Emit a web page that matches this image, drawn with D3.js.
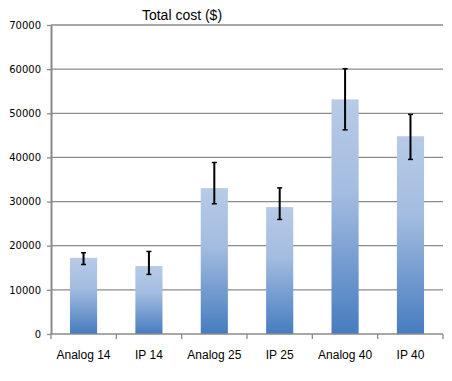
<!DOCTYPE html>
<html>
<head>
<meta charset="utf-8">
<script src="https://cdn.jsdelivr.net/npm/d3@7"></script>
<style>
  body { margin: 0; background: #fff; }
  svg { display: block; }
</style>
</head>
<body>
<svg id="chart"></svg>
<script>
var categories = ['Analog 14', 'IP 14', 'Analog 25', 'IP 25', 'Analog 40', 'IP 40'];
var costs = [17250, 15400, 33050, 28750, 53150, 44800];
var errLow = [15750, 13500, 29500, 25950, 46250, 39550];
var errHigh = [18400, 18700, 38850, 33100, 60100, 49750];
var yTicks = [0, 10000, 20000, 30000, 40000, 50000, 60000, 70000];

var W = 452, H = 381,
  margin = { top: 25, right: 9, bottom: 47, left: 51 },
  width = W - margin.left - margin.right,
  height = H - margin.top - margin.bottom;

var svg = d3.select('#chart')
  .attr('width', W)
  .attr('height', H);

// bar gradient, light on top and darker at the base
var grad = svg.append('defs').append('linearGradient')
  .attr('id', 'barGrad')
  .attr('x1', 0).attr('y1', 0).attr('x2', 0).attr('y2', 1);
grad.append('stop').attr('offset', '0%').attr('stop-color', '#b7cbe7');
grad.append('stop').attr('offset', '40%').attr('stop-color', '#a3bce0');
grad.append('stop').attr('offset', '100%').attr('stop-color', '#467cbf');

var g = svg.append('g')
  .attr('transform', 'translate(' + margin.left + ',' + margin.top + ')');

var x = d3.scaleBand()
  .domain(categories)
  .range([0, width])
  .paddingInner(0.585)
  .paddingOuter(0.29);
var y = d3.scaleLinear()
  .domain([0, 70000])
  .range([height, 0]);

// grid lines
g.append('g')
  .selectAll('line')
  .data(yTicks.slice(1))
  .enter().append('line')
  .attr('x1', 0)
  .attr('x2', width)
  .attr('y1', function (d) { return y(d); })
  .attr('y2', function (d) { return y(d); })
  .attr('stroke', '#8a8a8a')
  .attr('stroke-width', 1.3);

// bars
g.selectAll('.bar')
  .data(costs)
  .enter().append('rect')
  .attr('class', 'bar')
  .attr('x', function (d, i) { return x(categories[i]); })
  .attr('width', x.bandwidth())
  .attr('y', function (d) { return y(d); })
  .attr('height', function (d) { return height - y(d); })
  .attr('fill', 'url(#barGrad)');

// error bars
var err = g.append('g').selectAll('g')
  .data(categories)
  .enter().append('g')
  .attr('transform', function (d) { return 'translate(' + (x(d) + x.bandwidth() / 2) + ',0)'; });
err.append('line')
  .attr('y1', function (d, i) { return y(errLow[i]); })
  .attr('y2', function (d, i) { return y(errHigh[i]); })
  .attr('stroke', '#000')
  .attr('stroke-width', 2);
err.append('line')
  .attr('x1', -2.5).attr('x2', 2.5)
  .attr('y1', function (d, i) { return y(errLow[i]); })
  .attr('y2', function (d, i) { return y(errLow[i]); })
  .attr('stroke', '#000')
  .attr('stroke-width', 1.5);
err.append('line')
  .attr('x1', -2.5).attr('x2', 2.5)
  .attr('y1', function (d, i) { return y(errHigh[i]); })
  .attr('y2', function (d, i) { return y(errHigh[i]); })
  .attr('stroke', '#000')
  .attr('stroke-width', 1.5);

// y axis
var yAxis = g.append('g')
  .call(d3.axisLeft(y).tickValues(yTicks).tickSize(4).tickSizeOuter(0).tickFormat(d3.format('d')));
yAxis.select('.domain').attr('stroke', '#8a8a8a').attr('stroke-width', 2);
yAxis.selectAll('.tick line').attr('stroke', '#8a8a8a').attr('stroke-width', 1.3);
yAxis.selectAll('text')
  .attr('x', -10)
  .style('font-family', 'DejaVu Sans, Verdana, sans-serif')
  .style('font-size', '10px')
  .attr('fill', '#000');

// x axis, ticks on the band boundaries
var xAxis = g.append('g')
  .attr('transform', 'translate(0,' + height + ')');
xAxis.append('line')
  .attr('x1', 0).attr('x2', width)
  .attr('stroke', '#8a8a8a')
  .attr('stroke-width', 1.5);
xAxis.selectAll('.xt')
  .data(d3.range(categories.length + 1))
  .enter().append('line')
  .attr('class', 'xt')
  .attr('x1', function (i) { return width * i / categories.length; })
  .attr('x2', function (i) { return width * i / categories.length; })
  .attr('y1', 0).attr('y2', 5)
  .attr('stroke', '#8a8a8a')
  .attr('stroke-width', 1.3);
xAxis.selectAll('.xl')
  .data(categories)
  .enter().append('text')
  .attr('class', 'xl')
  .attr('x', function (d) { return x(d) + x.bandwidth() / 2; })
  .attr('y', 25)
  .attr('text-anchor', 'middle')
  .style('font-family', 'Liberation Sans, Arial, sans-serif')
  .style('font-size', '12px')
  .text(function (d) { return d; });

svg.append('text')
  .attr('x', 182)
  .attr('y', 20)
  .attr('text-anchor', 'middle')
  .style('font-family', 'Liberation Sans, Arial, sans-serif')
  .style('font-size', '14px')
  .text('Total cost ($)');
</script>
</body>
</html>
